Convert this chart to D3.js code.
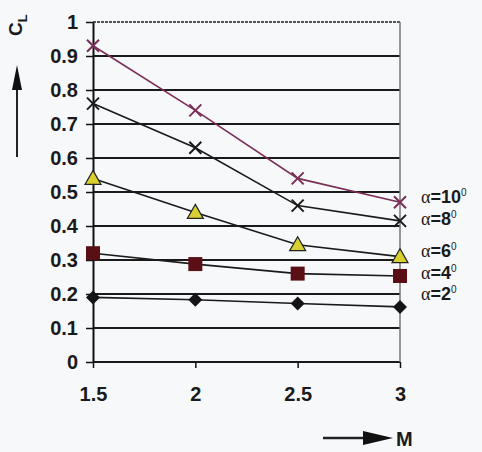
<!DOCTYPE html>
<html>
<head>
<meta charset="utf-8">
<script src="https://cdn.jsdelivr.net/npm/d3@7"></script>
<style>
  body { margin: 0; background: #f7f8fa; }
  svg { display: block; }
</style>
</head>
<body>
<div id="chart"></div>
<script>
// Mach numbers and lift coefficient per angle of attack
var machValues = [1.5, 2, 2.5, 3];
var alpha10 = [0.93, 0.74, 0.54, 0.47];
var alpha8 = [0.76, 0.63, 0.46, 0.415];
var alpha6 = [0.54, 0.44, 0.345, 0.31];
var alpha4 = [0.32, 0.288, 0.26, 0.253];
var alpha2 = [0.19, 0.183, 0.172, 0.162];
var seriesNames = ["10", "8", "6", "4", "2"];
var yTicks = [0, 0.1, 0.2, 0.3, 0.4, 0.5, 0.6, 0.7, 0.8, 0.9, 1];
var xTicks = [1.5, 2, 2.5, 3];

var width = 482, height = 452;
var margin = {left: 93, right: 82, top: 22, bottom: 90};
var sans = "Liberation Sans, Arial, sans-serif";

var svg = d3.select("#chart").append("svg")
  .attr("width", width)
  .attr("height", height);

var xScale = d3.scaleLinear().domain([1.5, 3]).range([margin.left, width - margin.right]);
var yScale = d3.scaleLinear().domain([0, 1]).range([height - margin.bottom, margin.top]);

// horizontal grid
svg.append("g").selectAll("line")
  .data(yTicks)
  .enter().append("line")
  .attr("x1", xScale(1.5))
  .attr("x2", xScale(3))
  .attr("y1", function(d) { return yScale(d); })
  .attr("y2", function(d) { return yScale(d); })
  .attr("stroke", function(d) { return d === 1 ? "#555" : "#1a1a1a"; })
  .attr("stroke-width", 1.8)
  .attr("stroke-dasharray", function(d) { return d === 1 ? "3,1" : null; });

// right border
svg.append("line")
  .attr("x1", xScale(3)).attr("x2", xScale(3))
  .attr("y1", yScale(1)).attr("y2", yScale(0))
  .attr("stroke", "#777").attr("stroke-width", 1.5);

var yAxis = d3.axisLeft(yScale).tickValues(yTicks).tickSize(7).tickSizeOuter(0)
  .tickFormat(function(d) { return d === 0 || d === 1 ? d3.format("d")(d) : d3.format(".1f")(d); });
var gy = svg.append("g")
  .attr("transform", "translate(" + margin.left + ",0)")
  .call(yAxis);
gy.select(".domain").attr("stroke", "#111").attr("stroke-width", 2);
gy.selectAll(".tick line").attr("stroke", "#111").attr("stroke-width", 1.5);
gy.selectAll("text")
  .attr("x", -15)
  .style("font-family", sans)
  .style("font-weight", "bold")
  .style("font-size", "20px")
  .attr("fill", "#1a1a1a");

var xAxis = d3.axisBottom(xScale).tickValues(xTicks).tickSize(6).tickSizeOuter(0)
  .tickFormat(function(d) { return d; });
var gx = svg.append("g")
  .attr("transform", "translate(0," + yScale(0) + ")")
  .call(xAxis);
gx.select(".domain").remove();
gx.selectAll(".tick line").attr("stroke", "#111").attr("stroke-width", 1.5);
gx.selectAll("text")
  .attr("y", 25)
  .style("font-family", sans)
  .style("font-weight", "bold")
  .style("font-size", "20px")
  .attr("fill", "#1a1a1a");

var line = d3.line()
  .x(function(d) { return xScale(d[0]); })
  .y(function(d) { return yScale(d[1]); });

function pairs(vals) {
  return machValues.map(function(m, i) { return [m, vals[i]]; });
}

var series = [
  {name: seriesNames[0], vals: alpha10, color: "#7a2e58", marker: "cross", fill: "#7a2e58"},
  {name: seriesNames[1], vals: alpha8, color: "#1a1a1a", marker: "cross", fill: "#1a1a1a"},
  {name: seriesNames[2], vals: alpha6, color: "#1a1a1a", marker: "triangle", fill: "#d8d030"},
  {name: seriesNames[3], vals: alpha4, color: "#1a1a1a", marker: "square", fill: "#5a0f14"},
  {name: seriesNames[4], vals: alpha2, color: "#1a1a1a", marker: "diamond", fill: "#141418"}
];

series.forEach(function(s) {
  var data = pairs(s.vals);
  svg.append("path")
    .datum(data)
    .attr("fill", "none")
    .attr("stroke", s.color)
    .attr("stroke-width", 1.6)
    .attr("d", line);

  var g = svg.append("g");
  data.forEach(function(d) {
    var cx = xScale(d[0]), cy = yScale(d[1]);
    if (s.marker === "cross") {
      var r = 6;
      g.append("path")
        .attr("d", "M" + (cx - r) + "," + (cy - r) + "L" + (cx + r) + "," + (cy + r) +
                   "M" + (cx - r) + "," + (cy + r) + "L" + (cx + r) + "," + (cy - r))
        .attr("stroke", s.fill)
        .attr("stroke-width", 2);
    } else if (s.marker === "triangle") {
      g.append("path")
        .attr("d", "M" + cx + "," + (cy - 8) + "L" + (cx + 8) + "," + (cy + 6) + "L" + (cx - 8) + "," + (cy + 6) + "Z")
        .attr("fill", s.fill).attr("stroke", "#222").attr("stroke-width", 1.2);
    } else if (s.marker === "square") {
      g.append("rect")
        .attr("x", cx - 7).attr("y", cy - 7).attr("width", 14).attr("height", 14)
        .attr("fill", s.fill);
    } else {
      g.append("path")
        .attr("d", "M" + cx + "," + (cy - 7) + "L" + (cx + 7) + "," + cy + "L" + cx + "," + (cy + 7) + "L" + (cx - 7) + "," + cy + "Z")
        .attr("fill", s.fill);
    }
  });
});

// series labels at right (baselines)
var labelY = [203, 225, 257, 279, 300];
series.forEach(function(s, i) {
  var t = svg.append("text")
    .attr("x", 421)
    .attr("y", labelY[i])
    .style("font-size", "16px")
    .attr("fill", "#1a1a1a");
  t.append("tspan")
    .style("font-family", "Liberation Serif, serif")
    .style("font-size", "18px")
    .text("α");
  t.append("tspan")
    .style("font-family", sans)
    .style("font-weight", "bold")
    .style("font-size", "18px")
    .text("=" + s.name);
  t.append("tspan")
    .style("font-family", sans)
    .style("font-size", "10px")
    .attr("dy", -7)
    .text("0");
});

// C_L label with up arrow
svg.append("text")
  .attr("transform", "translate(22,36) rotate(-90)")
  .style("font-family", sans)
  .style("font-weight", "bold")
  .style("font-size", "19px")
  .attr("fill", "#1a1a1a")
  .text("C")
  .append("tspan")
  .style("font-size", "13px")
  .attr("dy", 5)
  .text("L");

svg.append("line")
  .attr("x1", 17).attr("x2", 17).attr("y1", 157).attr("y2", 85)
  .attr("stroke", "#222").attr("stroke-width", 2);
svg.append("path")
  .attr("d", "M17,65L12,90L22,90Z")
  .attr("fill", "#111");

// M label with right arrow
svg.append("line")
  .attr("x1", 323).attr("x2", 368).attr("y1", 438).attr("y2", 438)
  .attr("stroke", "#222").attr("stroke-width", 2.5);
svg.append("path")
  .attr("d", "M393,438L363,431L363,445Z")
  .attr("fill", "#111");
svg.append("text")
  .attr("x", 396)
  .attr("y", 446)
  .style("font-family", sans)
  .style("font-weight", "bold")
  .style("font-size", "20px")
  .attr("fill", "#1a1a1a")
  .text("M");
</script>
</body>
</html>
